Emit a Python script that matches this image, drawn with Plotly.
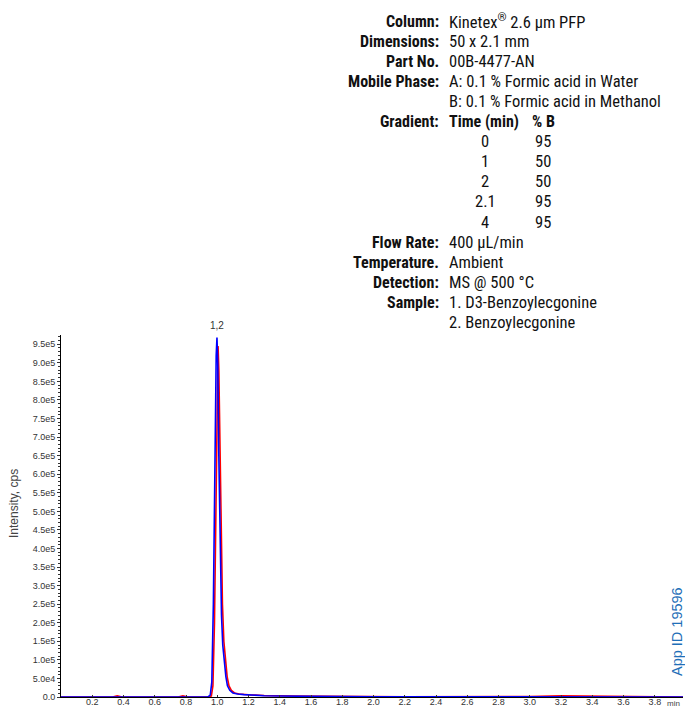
import plotly.graph_objects as go

# Chromatogram traces (time in min, intensity in cps)
blue_time = [0.0, 0.90, 0.94, 0.955, 0.965, 0.975, 0.985, 0.993, 0.998, 1.003, 1.010,
             1.018, 1.027, 1.035, 1.045, 1.055, 1.065, 1.08, 1.10, 1.13, 1.17, 1.20,
             1.30, 1.40, 1.60, 1.80, 2.00, 2.50, 3.00, 3.98]
blue_int = [0, 0, 500, 5000, 40000, 250000, 650000, 920000, 968000, 900000, 650000,
            380000, 220000, 140000, 90000, 55000, 30000, 18000, 11000, 8000, 6500, 5500,
            3500, 2500, 1500, 1000, 600, 300, 200, 0]

red_time = [0.0, 0.33, 0.36, 0.39, 0.75, 0.78, 0.81, 0.95, 0.962, 0.972, 0.982, 0.992,
            1.000, 1.005, 1.010, 1.017, 1.025, 1.033, 1.042, 1.052, 1.063, 1.075, 1.09,
            1.11, 1.14, 1.20, 1.30, 1.50, 1.80, 2.20, 3.00, 3.20, 3.50, 3.70, 3.98]
red_int = [0, 0, 3000, 0, 0, 3000, 0, 0, 3000, 30000, 200000, 600000,
           900000, 945000, 880000, 650000, 400000, 250000, 150000, 95000, 55000, 30000, 18000,
           11000, 8000, 6000, 4000, 2500, 1200, 600, 1500, 3000, 2000, 500, 0]

# Axis ticks
x_tickvals = [0.2, 0.4, 0.6, 0.8, 1.0, 1.2, 1.4, 1.6, 1.8, 2.0, 2.2, 2.4, 2.6, 2.8,
              3.0, 3.2, 3.4, 3.6, 3.8]
x_ticktext = ["0.2", "0.4", "0.6", "0.8", "1.0", "1.2", "1.4", "1.6", "1.8", "2.0", "2.2",
              "2.4", "2.6", "2.8", "3.0", "3.2", "3.4", "3.6", "3.8"]
y_tickvals = [0, 50000, 100000, 150000, 200000, 250000, 300000, 350000, 400000, 450000,
              500000, 550000, 600000, 650000, 700000, 750000, 800000, 850000, 900000, 950000]
y_ticktext = ["0.0", "5.0e4", "1.0e5", "1.5e5", "2.0e5", "2.5e5", "3.0e5", "3.5e5", "4.0e5",
              "4.5e5", "5.0e5", "5.5e5", "6.0e5", "6.5e5", "7.0e5", "7.5e5", "8.0e5",
              "8.5e5", "9.0e5", "9.5e5"]

# Method details block
info_labels = ["Column:", "Dimensions:", "Part No.", "Mobile Phase:", "", "Gradient:",
               "", "", "", "", "", "Flow Rate:", "Temperature.", "Detection:", "Sample:", ""]
info_values = ["Kinetex<sup>®</sup> 2.6 µm PFP", "50 x 2.1 mm", "00B-4477-AN",
               "A: 0.1 % Formic acid in Water", "B: 0.1 % Formic acid in Methanol", "",
               "", "", "", "", "", "400 µL/min", "Ambient", "MS @ 500 °C",
               "1. D3-Benzoylecgonine", "2. Benzoylecgonine"]
grad_header = ["Time (min)", "% B"]
grad_time = ["0", "1", "2", "2.1", "4"]
grad_pct_b = ["95", "50", "50", "95", "95"]

peak_label = "1,2"
peak_label_time = 1.0

W, H = 685, 707
ML, MR, MT, MB = 61, 2, 335, 10
PW, PH = W - ML - MR, H - MT - MB
Y_MAX = 975000


def px(xp):
    return (xp - ML) / PW


def py(yp):
    return (H - MB - yp) / PH


FONT = "Liberation Sans, Arial, sans-serif"
INFO = "Roboto Condensed, Liberation Sans Narrow, sans-serif"


def note(x, y, text, font, xanchor="center", **kw):
    return dict(x=x, y=y, xref="paper", yref="paper", text=text, xanchor=xanchor,
                yanchor="middle", showarrow=False, font=font, **kw)


label_font = dict(family=INFO, size=16, color="#111")
value_font = dict(family=INFO, size=16.5, color="#111")

fig = go.Figure()
fig.add_trace(go.Scatter(x=red_time, y=red_int, mode="lines",
                         line=dict(color="#ff0000", width=1.6), hoverinfo="skip"))
fig.add_trace(go.Scatter(x=blue_time, y=blue_int, mode="lines",
                         line=dict(color="#0000ff", width=1.6), hoverinfo="skip"))

annotations = []
row_y0, row_dy = 21, 20.1
for i, (lab, val) in enumerate(zip(info_labels, info_values)):
    y = py(row_y0 + i * row_dy)
    if lab:
        annotations.append(note(px(441), y, "<b>" + lab + "</b>", label_font, xanchor="right"))
    if val:
        annotations.append(note(px(447), y, val, value_font, xanchor="left"))

# Gradient table
g_row = info_labels.index("Gradient:")
for txt, xl in zip(grad_header, [447, 530]):
    annotations.append(note(px(xl), py(row_y0 + g_row * row_dy), "<b>" + txt + "</b>",
                            label_font, xanchor="left"))
for k, (t, b) in enumerate(zip(grad_time, grad_pct_b)):
    y = py(row_y0 + (g_row + 1 + k) * row_dy)
    annotations.append(note(px(485), y, t, value_font))
    annotations.append(note(px(543), y, b, value_font))

# Peak label
annotations.append(dict(x=peak_label_time, xref="x", y=py(325), yref="paper", text=peak_label,
                        xanchor="center", yanchor="middle", showarrow=False,
                        font=dict(family=FONT, size=10, color="#333")))
# Axis titles
annotations.append(note(px(14), py(504), "Intensity, cps",
                        dict(family=FONT, size=12, color="#444"), textangle=-90))
annotations.append(note(px(673), py(703), "min", dict(family=FONT, size=8, color="#444")))
# Application id
annotations.append(note(px(677), py(632), "App ID 19596",
                        dict(family=FONT, size=14.5, color="#1f6fb8"), textangle=-90))

fig.update_layout(
    width=W, height=H, margin=dict(l=ML, r=MR, t=MT, b=MB, autoexpand=False),
    paper_bgcolor="white", plot_bgcolor="white", showlegend=False,
    annotations=annotations,
    xaxis=dict(range=[0, 3.98], showgrid=False, zeroline=False, showline=True,
               linecolor="#000", linewidth=1, tickmode="array", tickvals=x_tickvals,
               ticktext=x_ticktext, ticks="inside", ticklen=2, tickcolor="#333",
               tickfont=dict(family=FONT, size=9, color="#333"), automargin=False,
               ticklabelstandoff=-4),
    yaxis=dict(range=[0, Y_MAX], showgrid=False, zeroline=False, showline=True,
               linecolor="#000", linewidth=1, tickmode="array", tickvals=y_tickvals,
               ticktext=y_ticktext, ticks="outside", ticklen=3, tickcolor="#333",
               tickfont=dict(family=FONT, size=9, color="#333"), automargin=False,
               minor=dict(tickmode="linear", tick0=0, dtick=10000, ticks="outside",
                          ticklen=2, tickcolor="#333")),
)

fig.write_html("out.html")
